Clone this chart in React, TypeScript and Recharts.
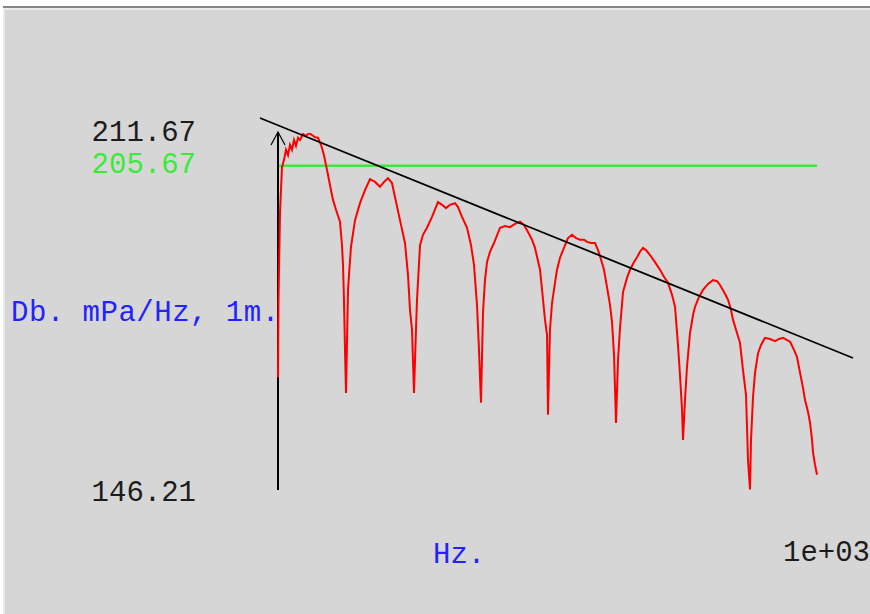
import React from "react"
import { LineChart, Line, XAxis, YAxis, ReferenceLine } from "recharts"

// spectrum samples, Hz / dB re 1 mPa/Hz at 1 m
const freqHz = [
  0, 0.9, 3.7, 7.4, 11.1, 14.8, 18.6, 22.3, 26.0, 29.7, 33.4, 37.1, 40.8, 46.4, 51.9, 57.5, 63.1, 68.6, 74.2, 79.8,
  85.3, 90.9, 96.5, 102.0, 107.6, 115.0, 118.7, 120.6, 122.4, 124.3, 126.2,
  129.9, 131.7, 135.4, 142.9, 152.1, 161.4, 170.7, 180.0, 189.2, 196.7, 204.1, 211.5, 217.1, 226.3, 235.6, 241.2,
  244.9, 248.6, 252.3,
  256.0, 257.9, 263.5, 269.0, 276.4, 285.7, 296.8, 304.3, 311.7, 319.1, 328.4, 334.0, 341.4, 350.7, 358.1, 363.6,
  369.2, 372.9, 376.6,
  380.3, 384.0, 387.8, 393.3, 400.7, 411.9, 421.2, 430.4, 439.7, 449.0, 456.4, 463.8, 471.2, 476.8, 486.1, 491.7,
  495.4, 499.1, 500.9,
  504.6, 508.4, 513.9, 517.6, 523.2, 528.8, 538.0, 545.5, 552.9, 560.3, 567.7, 573.3, 580.7, 588.1, 593.7, 597.4,
  604.8, 610.4, 616.0, 619.7, 623.4, 627.1,
  630.8, 634.5, 640.1, 647.5, 653.1, 660.5, 666.1, 671.6, 677.2, 682.7, 690.2, 699.4, 708.7, 716.1, 723.6, 731.0,
  736.6, 742.1, 745.8, 749.6, 751.4,
  755.1, 758.8, 764.4, 770.0, 773.7, 781.1, 788.5, 797.8, 807.1, 814.5, 820.1, 827.5, 834.9, 840.5, 844.2, 851.6,
  857.1, 862.7, 868.3, 872.0, 875.7,
  877.6, 881.3, 885.0, 890.6, 896.2, 903.5, 912.8, 922.1, 929.5, 937.0, 944.4, 950.0, 957.4, 962.9, 968.5, 974.1,
  977.8, 983.4, 987.1, 990.8, 992.7, 996.4, 1000.0,
]

const levelDb = [
  166.9, 181.1, 197.0, 205.4, 206.7, 208.6, 207.6, 209.5, 208.6, 210.4, 209.3, 210.8, 210.4, 211.5, 211.1, 211.7, 211.3, 210.9, 210.8, 209.5,
  207.6, 204.9, 202.1, 199.4, 197.6, 195.4, 191.1, 187.5, 181.1, 171.9, 164.0,
  182.9, 185.6, 190.8, 195.7, 198.8, 201.2, 203.2, 202.7, 201.8, 202.7, 203.4, 202.5, 199.9, 195.7, 191.5, 185.6,
  179.2, 175.6, 164.0,
  175.6, 181.1, 191.1, 193.0, 194.3, 196.3, 199.0, 198.5, 197.9, 198.5, 198.8, 198.1, 196.3, 194.3, 191.1, 187.5,
  180.1, 171.9, 162.2,
  178.7, 184.7, 188.0, 189.9, 191.5, 194.3, 194.6, 194.4, 195.0, 195.4, 194.8, 193.5, 192.1, 190.6, 186.6, 181.1,
  177.4, 174.6, 160.0,
  175.6, 180.5, 184.2, 186.6, 188.8, 190.2, 192.4, 193.0, 192.4, 192.1, 192.1, 191.7, 191.5, 191.5, 190.2, 189.1,
  186.6, 183.4, 180.1, 177.0, 171.0, 158.5,
  170.0, 175.9, 182.5, 185.1, 186.6, 188.0, 188.9, 189.9, 190.6, 190.2, 189.3, 188.0, 186.6, 185.3, 184.2, 182.0,
  179.8, 172.8, 167.3, 160.9, 155.4,
  162.7, 168.8, 175.0, 178.3, 179.8, 181.6, 182.9, 184.0, 184.7, 184.5, 183.8, 182.5, 181.1, 179.2, 177.4, 175.0,
  173.2, 168.2, 163.6, 151.7, 146.3,
  155.4, 163.3, 167.7, 171.3, 172.8, 174.1, 173.9, 173.5, 173.9, 174.1, 173.7, 173.4, 171.9, 170.6, 167.7, 164.9,
  162.7, 160.5, 158.5, 155.4, 153.0, 150.8, 149.0,
]

const yTicks = [146.21, 205.67, 211.67]
const xTicks = [1000]
const thresholdDb = 205.67
// fitted decay line, end points in Hz / dB
const trendHz = [-33.4, 1066.8]
const trendDb = [214.42, 170.42]

const spectrum = freqHz.map((hz, i) => ({ hz, db: levelDb[i] }))

const MONO = "'Liberation Mono', 'DejaVu Sans Mono', monospace"
const GREEN = "#36ec36"
const BLUE = "#2222ff"
const INK = "#1c1c1c"

const YTick = (props: any) => {
  const v = props.payload.value
  return (
    <text
      x={props.x}
      y={props.y}
      dy={v === 146.21 ? 3 : 0}
      textAnchor="end"
      dominantBaseline="central"
      fontFamily={MONO}
      fontSize={29}
      fill={v === thresholdDb ? GREEN : INK}
    >
      {v.toFixed(2)}
    </text>
  )
}

const XTick = (props: any) => (
  <text
    x={props.x}
    y={props.y}
    dx={-34}
    textAnchor="start"
    dominantBaseline="central"
    fontFamily={MONO}
    fontSize={29}
    fill={INK}
  >
    {Number(props.payload.value).toExponential(0).replace("e+3", "e+03")}
  </text>
)

// vertical axis with an open arrow head on top
const ArrowAxis = (props: any) => {
  const { x1, y1, y2 } = props
  const top = Math.min(y1, y2)
  const bottom = Math.max(y1, y2)
  return (
    <g>
      <line x1={x1} y1={bottom} x2={x1} y2={top} stroke="#000" strokeWidth={2} />
      <polyline
        points={`${x1 - 7},${top + 12} ${x1},${top - 1} ${x1 + 7},${top + 12}`}
        fill="none"
        stroke="#000"
        strokeWidth={1.2}
      />
    </g>
  )
}

export default function App() {
  return (
    <div style={{ position: "absolute", left: 0, top: 0, width: 870, height: 614, background: "#fff", overflow: "hidden" }}>
      <div style={{ position: "absolute", left: 3, top: 6, right: 0, bottom: 0, borderTop: "2px solid #858585" }}>
        <div style={{ position: "absolute", inset: 0, borderTop: "2px solid #ebebeb", borderLeft: "2px solid #ebebeb", background: "#d6d6d6" }} />
      </div>

      <div style={{ position: "absolute", left: 0, top: 0 }}>
        <LineChart width={870} height={614} data={spectrum} margin={{ top: 133, right: 53, bottom: 54, left: 198 }}>
          <XAxis
            dataKey="hz"
            type="number"
            domain={[0, 1000]}
            ticks={xTicks}
            axisLine={false}
            tickLine={false}
            tickSize={0}
            tickMargin={63}
            height={70}
            tick={<XTick />}
            interval={0}
          />
          <YAxis
            type="number"
            domain={[146.21, 211.67]}
            allowDataOverflow
            ticks={yTicks}
            axisLine={false}
            tickLine={false}
            tickSize={0}
            tickMargin={82}
            width={80}
            tick={<YTick />}
            interval={0}
          />
          <ReferenceLine y={thresholdDb} stroke={GREEN} strokeWidth={2.5} />
          <ReferenceLine x={0} shape={<ArrowAxis />} ifOverflow="visible" />
          <Line
            type="linear"
            dataKey="db"
            stroke="#ff0000"
            strokeWidth={2}
            dot={false}
            isAnimationActive={false}
          />
          <ReferenceLine
            segment={[
              { x: trendHz[0], y: trendDb[0] },
              { x: trendHz[1], y: trendDb[1] },
            ]}
            stroke="#000"
            strokeWidth={1.8}
            ifOverflow="visible"
          />
        </LineChart>
      </div>

      <div style={{ position: "absolute", left: 11, top: 299, fontFamily: MONO, fontSize: 29, lineHeight: "30px", letterSpacing: "0.5px", color: BLUE, whiteSpace: "pre" }}>
        Db. mPa/Hz, 1m.
      </div>
      <div style={{ position: "absolute", left: 433, top: 541, fontFamily: MONO, fontSize: 29, lineHeight: "30px", color: BLUE, whiteSpace: "pre" }}>
        Hz.
      </div>
    </div>
  )
}
